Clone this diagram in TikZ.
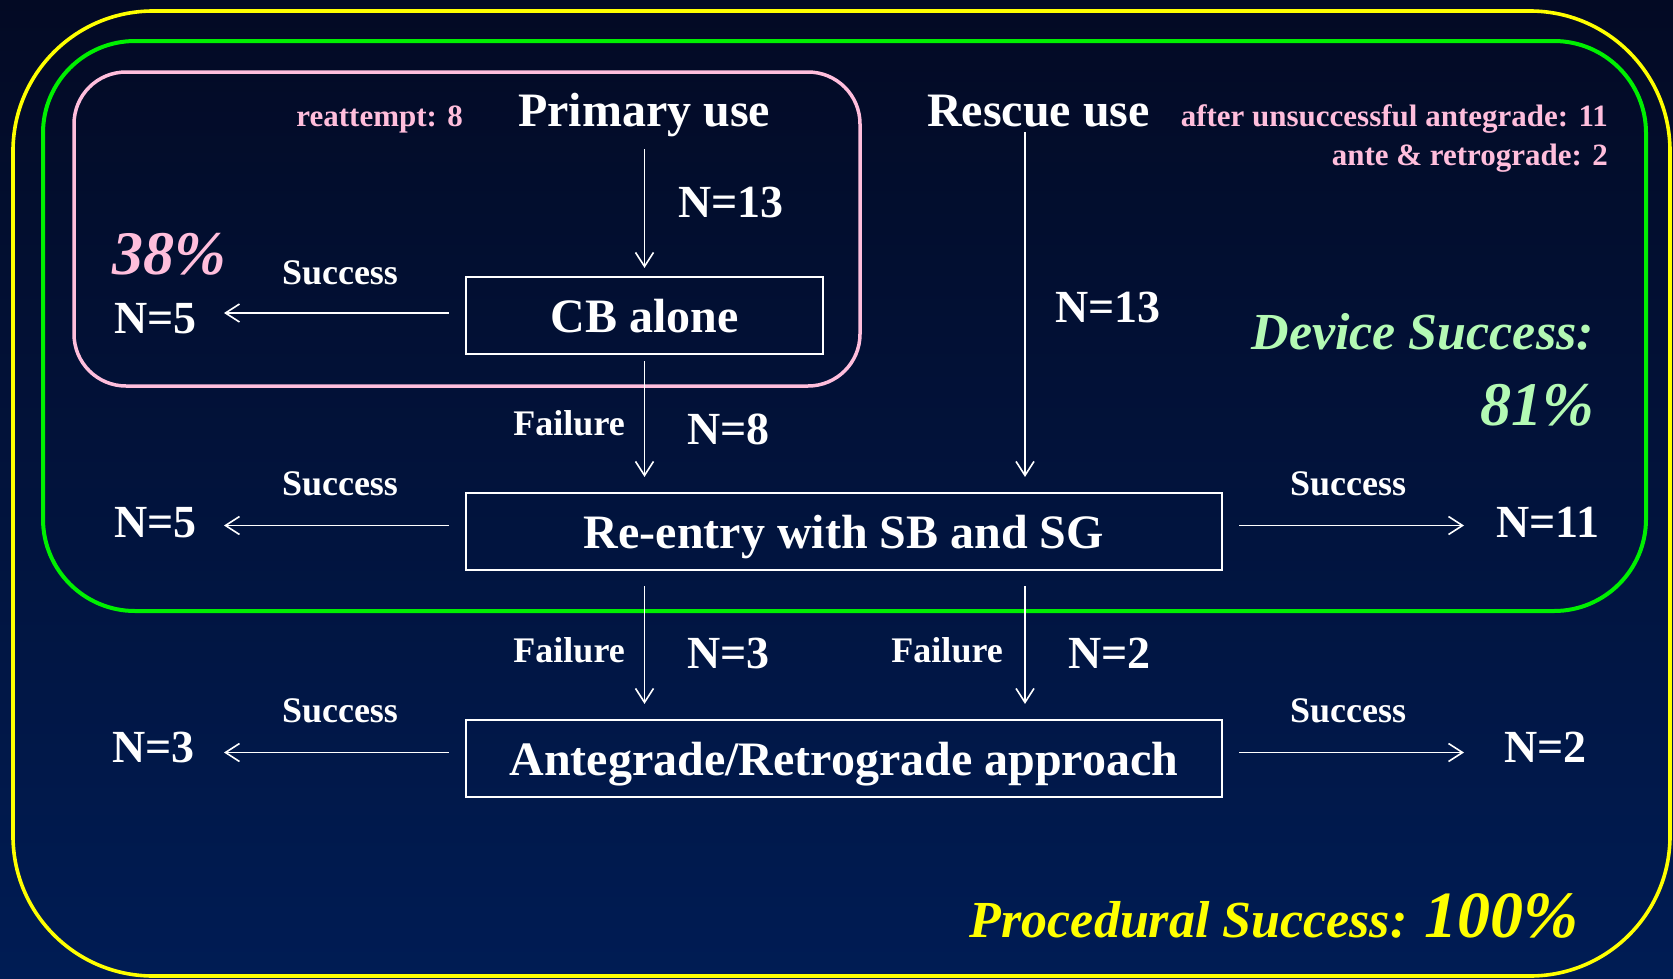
\documentclass[tikz,border=0pt]{standalone}
\usepackage{fontspec}
\setmainfont{Liberation Serif}
\usetikzlibrary{arrows.meta}
\definecolor{bgtop}{RGB}{3,10,36}
\definecolor{bgbot}{RGB}{0,28,84}
\definecolor{ylw}{RGB}{255,255,0}
\definecolor{grn}{RGB}{0,240,0}
\definecolor{pnk}{RGB}{255,190,220}
\definecolor{lgrn}{RGB}{180,250,180}
\newcommand\myfs[1]{\fontsize{#1}{#1}\selectfont}
\begin{document}
\begin{tikzpicture}[x=1pt,y=-1pt,
  lbl/.style={text=white, font=\bfseries\myfs{36}, inner sep=0pt},
  nlbl/.style={text=white, font=\bfseries\myfs{46}, inner sep=0pt},
  ttl/.style={text=white, font=\bfseries\myfs{48}, inner sep=0pt},
  note/.style={text=pnk, font=\bfseries\myfs{31}, inner sep=0pt},
  pct/.style={font=\bfseries\itshape\myfs{62}, inner sep=0pt},
  stepbox/.style={draw=white, line width=2.2pt, minimum height=77pt, inner sep=0pt,
    text height=34pt, text depth=0pt, text=white, font=\bfseries\myfs{48}},
  arr/.style={draw=white, line width=1.6pt, -{Straight Barb[length=14pt,width=18pt]}},
]
\useasboundingbox (0,0) rectangle (1673,978);
\shade[top color=bgtop, bottom color=bgbot] (0,0) rectangle (1673,978);

% frames
\draw[ylw, line width=3.6pt, rounded corners=140pt] (13,11) rectangle (1670,976);
\draw[grn, line width=4pt, rounded corners=92pt] (43,41) rectangle (1646,611);
\draw[pnk, line width=3.5pt, rounded corners=52pt] (74,72) rectangle (860,386);

% headings
\node[ttl, anchor=base] (primary) at (644,126) {Primary use};
\node[note, anchor=base east] (reatt) at (463,126) {reattempt: 8};
\node[ttl, anchor=base west] (rescue) at (927,126) {Rescue use};
\node[note, anchor=base east] (after) at (1608,126) {after unsuccessful antegrade: 11};
\node[note, anchor=base east] (anteretro) at (1608,165) {ante \& retrograde: 2};

% boxes
\node[stepbox, minimum width=357pt] (cb) at (644.5,315.5) {CB alone};
\node[stepbox, minimum width=756pt] (reentry) at (844,531.5) {Re-entry with SB and SG};
\node[stepbox, minimum width=756pt] (ante) at (844,758.5) {Antegrade/Retrograde approach};

% row 1 labels
\node[nlbl, anchor=base west] (n13a) at (678,217) {N=13};
\node[pct, text=pnk, anchor=base west] (pct38) at (112,274) {38\%};
\node[lbl, anchor=base] (s1) at (340,284) {Success};
\node[nlbl, anchor=base west] (n5a) at (114,333) {N=5};
\node[lbl, anchor=base east] (f1) at (625,435) {Failure};
\node[nlbl, anchor=base west] (n8) at (687,444) {N=8};
\node[nlbl, anchor=base west] (n13b) at (1055,322) {N=13};
\node[font=\bfseries\itshape\myfs{52}, text=lgrn, inner sep=0pt, anchor=base east] (dev) at (1594,349) {Device Success:};
\node[pct, text=lgrn, anchor=base east] (pct81) at (1594,425) {81\%};

% row 2 labels
\node[lbl, anchor=base] (s2l) at (340,495) {Success};
\node[nlbl, anchor=base west] (n5b) at (114,537) {N=5};
\node[lbl, anchor=base] (s2r) at (1348,495) {Success};
\node[nlbl, anchor=base west] (n11) at (1496,537) {N=11};

% between row 2 and 3
\node[lbl, anchor=base east] (f2) at (625,662) {Failure};
\node[nlbl, anchor=base west] (n3a) at (687,668) {N=3};
\node[lbl, anchor=base east] (f3) at (1003,662) {Failure};
\node[nlbl, anchor=base west] (n2a) at (1068,668) {N=2};

% row 3 labels
\node[lbl, anchor=base] (s3l) at (340,722) {Success};
\node[nlbl, anchor=base west] (n3b) at (112,762) {N=3};
\node[lbl, anchor=base] (s3r) at (1348,722) {Success};
\node[nlbl, anchor=base west] (n2b) at (1504,762) {N=2};

% procedural
\node[text=ylw, inner sep=0pt, anchor=base east] (proc) at (1579,937)
  {\bfseries\itshape\myfs{52}Procedural Success: \myfs{66}100\%};

% connectors
\coordinate (ps) at (644.5,149);
\coordinate (rs) at (1025,132);
\coordinate (l1) at (224,313);
\coordinate (l2) at (224,525.5);
\coordinate (r2) at (1464,525.5);
\coordinate (l3) at (224,752.5);
\coordinate (r3) at (1464,752.5);

\draw[arr, shorten >=8pt] (ps) -- (cb.north);
\draw[arr, shorten >=15pt] (rs) -- (reentry.north -| rs);
\draw[arr, shorten <=6pt, shorten >=15pt] (cb.south) -- (reentry.north -| cb.south);
\draw[arr, shorten <=15pt, shorten >=15pt] (reentry.south -| cb.south) -- (ante.north -| cb.south);
\draw[arr, shorten <=15pt, shorten >=15pt] (reentry.south -| rs) -- (ante.north -| rs);

\draw[arr] (cb.west) ++(-16,-2.5) -- (l1);
\draw[arr] (reentry.west) ++(-16,-6) -- (l2);
\draw[arr] (reentry.east) ++(16,-6) -- (r2);
\draw[arr] (ante.west) ++(-16,-6) -- (l3);
\draw[arr] (ante.east) ++(16,-6) -- (r3);
\end{tikzpicture}
\end{document}
